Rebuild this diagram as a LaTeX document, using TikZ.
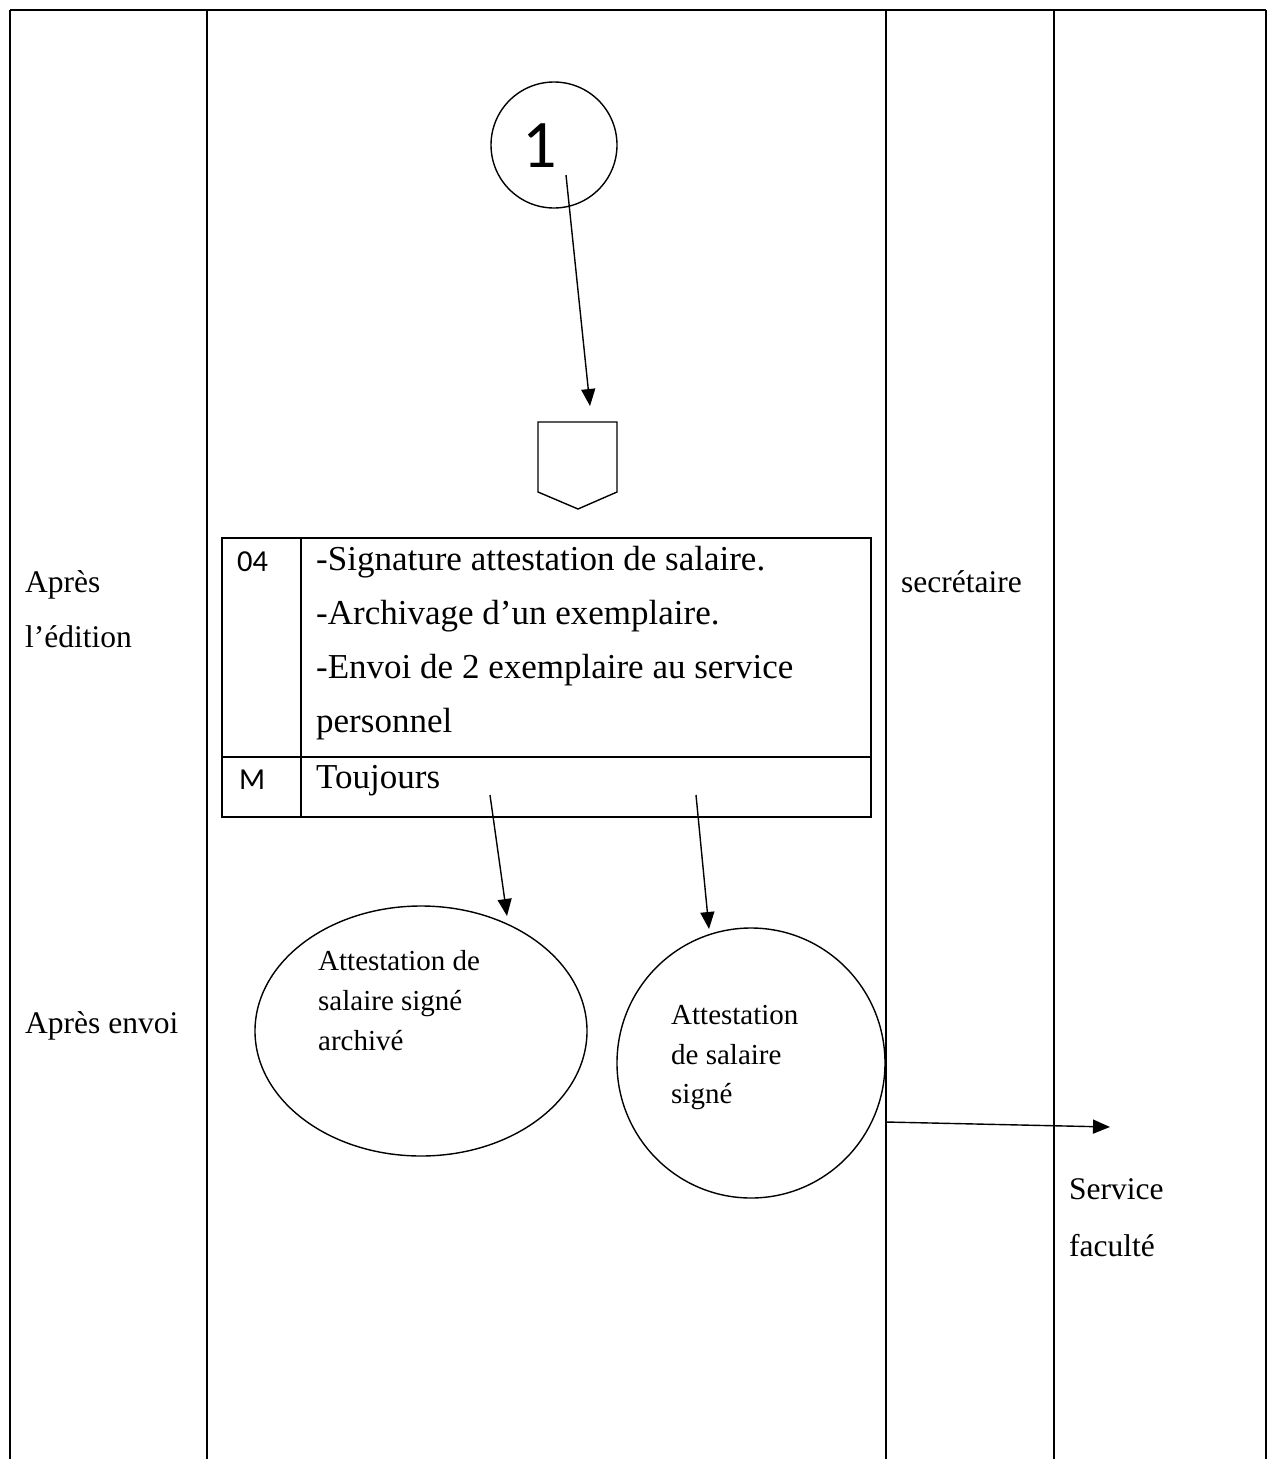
\documentclass[tikz,border=0pt]{standalone}
\usepackage{fontspec}
\setmainfont{Liberation Serif}
\newfontfamily\numfont{Carlito}
\usetikzlibrary{arrows.meta,shapes.geometric}
\begin{document}
\begin{tikzpicture}[x=1pt,y=-1pt,
  rule/.style={line width=1.1pt},
  shapeline/.style={line width=1.4pt},
  flow/.style={line width=1.4pt,-{Triangle[length=17pt,width=14pt]}},
  lanelabel/.style={anchor=base west,inner sep=0pt,font=\fontsize{31.5}{36}\selectfont},
  celltext/.style={anchor=base west,inner sep=0pt,font=\fontsize{35}{40}\selectfont},
  cellcode/.style={anchor=base west,inner sep=0pt,font=\numfont\fontsize{30.5}{34}\selectfont},
  doctext/.style={anchor=base west,inner sep=0pt,font=\fontsize{29}{33}\selectfont}]
\useasboundingbox (0,0) rectangle (1273,1459);

% swimlane grid: header rule and column separators
\draw[rule] (10,10) -- (1266,10);
\foreach \cx in {10,207,886,1054,1266}
  \draw[rule] (\cx,10) -- (\cx,1459);

% phase labels
\node[lanelabel] (apres1) at (25,592) {Après};
\node[lanelabel] (edition) at (25,647) {l’édition};
\node[lanelabel] (apres2) at (25,1033) {Après envoi};
\node[lanelabel] (secr) at (901,592) {secrétaire};
\node[lanelabel] (serv1) at (1069,1199) {Service};
\node[lanelabel] (serv2) at (1069,1256) {faculté};

% connector 1
\node[circle,draw,shapeline,minimum size=126pt,inner sep=0pt] (conn) at (554,145) {};
\node[anchor=base,inner sep=0pt,font=\numfont\fontsize{68}{70}\selectfont] (connlabel) at (540,167) {1};
\coordinate (connout) at (566,175);

% off-page connector
\draw[shapeline] (538,422) -- (617,422) -- (617,492) -- (578,509) -- (538,492) -- cycle;
\coordinate (offpage) at (590,406);
\draw[flow] (connout) -- (offpage);

% operation table
\draw[rule] (222,538) rectangle (871,817);
\draw[rule] (301,538) -- (301,817);
\draw[rule] (222,757) -- (871,757);
\node[cellcode] (code) at (237,571) {04};
\node[cellcode] (freq) at (239,789) {M};
\node[celltext] (t1) at (316,570) {-Signature attestation de salaire.};
\node[celltext] (t2) at (316,624) {-Archivage d’un exemplaire.};
\node[celltext] (t3) at (316,678) {-Envoi de 2 exemplaire au service};
\node[celltext] (t4) at (316,732) {personnel};
\node[celltext] (t5) at (316,788) {Toujours};

% documents
\node[ellipse,draw,shapeline,minimum width=332pt,minimum height=250pt,inner sep=0pt] (arch) at (421,1031) {};
\node[doctext] (a1) at (318,970) {Attestation de};
\node[doctext] (a2) at (318,1010) {salaire signé};
\node[doctext] (a3) at (318,1050) {archivé};

\node[ellipse,draw,shapeline,minimum width=268pt,minimum height=270pt,inner sep=0pt] (sign) at (751,1063) {};
\node[doctext] (s1) at (671,1024) {Attestation};
\node[doctext] (s2) at (671,1064) {de salaire};
\node[doctext] (s3) at (671,1103) {signé};

% flows out of the table
\coordinate (outA) at (490,795);
\coordinate (inA) at (507,916);
\coordinate (outB) at (696,795);
\coordinate (inB) at (709,929);
\draw[flow] (outA) -- (inA);
\draw[flow] (outB) -- (inB);

% transfer to the faculty service
\coordinate (toserv) at (1110,1127);
\draw[flow] (sign.east |- 0,1122) -- (toserv);
\end{tikzpicture}
\end{document}
